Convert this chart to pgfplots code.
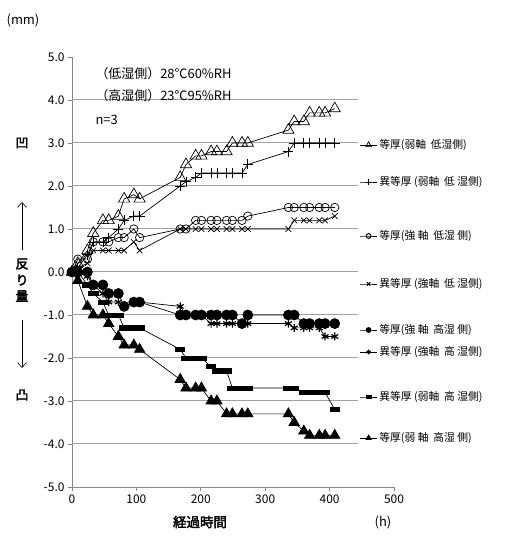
\documentclass[border=0pt]{standalone}
\usepackage{fontspec}
\setmainfont{Noto Sans CJK JP}
\newfontfamily\cjkb{Noto Sans CJK JP}[FakeBold=2.5]
\usepackage{pgfplots}
\pgfplotsset{compat=1.18}
\usepackage{pgfplotstable}
\usetikzlibrary{arrows.meta}

\pgfplotstableread{
t   s1  s2  s3  s4  s5   s6   s7   s8
0   0.0 0.0 0.0 0.0 0.0  0.0  0.0  0.0
9   0.2 0.1 0.3 0.1 0.0  0.0  0.0  -0.2
24  0.5 0.4 0.3 0.2 0.0  -0.1 -0.3 -0.8
33  0.9 0.7 0.7 0.5 -0.3 -0.3 -0.5 -1.0
48  1.2 0.7 0.7 0.5 -0.3 -0.5 -0.7 -1.0
57  1.2 0.8 0.7 0.5 -0.5 -0.7 -1.0 -1.2
72  1.3 1.0 0.8 0.5 -0.5 -0.7 -1.0 -1.5
81  1.7 1.2 0.8 0.5 -0.8 -0.8 -1.3 -1.7
96  1.8 1.3 1.0 0.7 -0.7 -0.7 -1.3 -1.7
105 1.7 1.3 0.8 0.5 -0.7 -0.7 -1.3 -1.8
168 2.2 2.0 1.0 1.0 -1.0 -0.8 -1.8 -2.5
177 2.5 2.1 1.0 1.0 -1.0 -1.0 -2.0 -2.7
192 2.7 2.2 1.2 1.0 -1.0 -1.0 -2.0 -2.7
201 2.7 2.3 1.2 1.0 -1.0 -1.0 -2.0 -2.7
216 2.8 2.3 1.2 1.0 -1.0 -1.2 -2.2 -3.0
225 2.8 2.3 1.2 1.0 -1.0 -1.2 -2.3 -3.0
240 2.8 2.3 1.2 1.0 -1.0 -1.2 -2.3 -3.3
249 3.0 2.3 1.2 1.0 -1.0 -1.2 -2.7 -3.3
264 3.0 2.3 1.2 1.0 -1.2 -1.2 -2.7 -3.3
273 3.0 2.5 1.3 1.0 -1.0 -1.2 -2.7 -3.3
336 3.3 2.8 1.5 1.0 -1.0 -1.2 -2.7 -3.3
345 3.5 3.0 1.5 1.2 -1.0 -1.3 -2.7 -3.5
360 3.5 3.0 1.5 1.2 -1.2 -1.3 -2.8 -3.7
369 3.7 3.0 1.5 1.2 -1.2 -1.3 -2.8 -3.8
384 3.7 3.0 1.5 1.2 -1.2 -1.3 -2.8 -3.8
393 3.7 3.0 1.5 1.2 -1.2 -1.5 -2.8 -3.8
408 3.8 3.0 1.5 1.3 -1.2 -1.5 -3.2 -3.8
}\data

\definecolor{axgray}{RGB}{134,134,134}
\definecolor{gridgray}{RGB}{160,160,160}

\pgfplotsset{
  base/.style={width=322bp,height=430bp,scale only axis,
    xmin=0,xmax=500,ymin=-5,ymax=5,at={(0,0)},anchor=south west,clip=false},
  ser/.style={black,line width=0.7bp},
}

% #1 legend rel y, #2 plot style, #3 column, #4 legend text, #5 legend mark style
\newcommand\ser[5]{%
\begin{axis}[base,hide axis,
  legend style={at={(0.893,#1)},anchor=west,draw=none,fill=none,inner sep=0pt,
    font=\fontsize{10.8}{12}\selectfont},
  legend cell align=left]
\addplot[ser,#2,forget plot] table[x=t,y=#3]{\data};
\addlegendimage{ser,#5}
\addlegendentry{#4}
\end{axis}}

\begin{document}
\begin{tikzpicture}
\useasboundingbox (-72bp,-56bp) rectangle (437bp,487bp);
\begin{axis}[base,
  axis lines=left,
  axis line style={axgray,line width=1bp,-},
  xtick={0,100,...,500},
  ytick={-5,-4,...,5},
  tick align=outside,
  major tick length=4bp,
  tick style={axgray,line width=0.8bp},
  /pgf/number format/assume math mode=true,
  ticklabel style={font=\fontsize{12}{14}\selectfont},
  yticklabel style={/pgf/number format/.cd,fixed,fixed zerofill,precision=1},
  xticklabel style={/pgf/number format/.cd,fixed,precision=0},
]
\pgfplotsinvokeforeach{-4,-3,...,4}{\draw[gridgray,line width=1bp] (axis cs:0,#1) -- (axis cs:444,#1);}
\end{axis}

\ser{0.7953}{mark=triangle,mark size=6.5bp,mark options={fill=white}}{s1}{等厚(弱軸\ \ 低湿側)}{mark=triangle,mark size=3.2bp,mark options={fill=white}}
\ser{0.7093}{mark=+,mark size=5bp}{s2}{異等厚 (弱軸\ \ 低 湿側)}{mark=+,mark size=3bp}
\ser{0.5837}{mark=o,mark size=4.2bp,mark options={fill=white}}{s3}{等厚(強 軸\ \ 低湿 側)}{mark=o,mark size=2.4bp,mark options={fill=white,line width=1bp}}
\ser{0.4721}{mark=x,mark size=4bp}{s4}{異等厚 (強軸\ \ 低 湿側)}{mark=x,mark size=2.4bp,mark options={line width=1bp}}
\ser{0.3651}{mark=*,mark size=5bp}{s5}{等厚(強 軸\ \ 高湿 側)}{mark=*,mark size=2.5bp}
\ser{0.3140}{mark=asterisk,mark size=4bp,mark options={line width=1.2bp}}{s6}{異等厚 (強軸\ \ 高 湿側)}{mark=asterisk,mark size=2.4bp,mark options={line width=1.1bp}}
\ser{0.2093}{mark=square*,mark size=3.3bp,mark options={xscale=1.4,yscale=0.65}}{s7}{異等厚 (弱軸\ \ 高 湿側)}{mark=square*,mark size=1.8bp,mark options={xscale=1.4,yscale=0.65}}
\ser{0.1140}{mark=triangle*,mark size=6bp}{s8}{等厚(弱 軸\ \ 高湿 側)}{mark=triangle*,mark size=3bp}

% annotations
\node[anchor=west,font=\fontsize{13}{15}\selectfont] at (20bp,413bp) {（低湿側）28℃60\%RH};
\node[anchor=west,font=\fontsize{13}{15}\selectfont] at (20bp,391bp) {（高湿側）23℃95\%RH};
\node[anchor=west,font=\fontsize{13}{15}\selectfont] at (20bp,367bp) {n=3};
\node[font=\fontsize{13}{15}\selectfont] at (-49bp,467bp) {(mm)};
\node[font=\cjkb\fontsize{13}{15}\selectfont] at (-50bp,344bp) {凹};
\node[font=\cjkb\fontsize{13}{15}\selectfont] at (-50bp,92bp) {凸};
\node[font=\cjkb\fontsize{13}{15}\selectfont] at (-50bp,223bp) {反};
\node[font=\cjkb\fontsize{13}{15}\selectfont] at (-50bp,207bp) {り};
\node[font=\cjkb\fontsize{13}{15}\selectfont] at (-50bp,191bp) {量};
\draw[black,line width=0.6bp,-{Straight Barb[length=5bp,width=9bp]}] (-50bp,237bp) -- (-50bp,285bp);
\draw[black,line width=0.6bp,-{Straight Barb[length=5bp,width=9bp]}] (-50bp,167bp) -- (-50bp,119bp);
\node[font=\cjkb\fontsize{13.5}{15}\selectfont] at (128bp,-35bp) {経過時間};
\node[font=\fontsize{13}{15}\selectfont] at (311bp,-35bp) {(h)};
\end{tikzpicture}
\end{document}
